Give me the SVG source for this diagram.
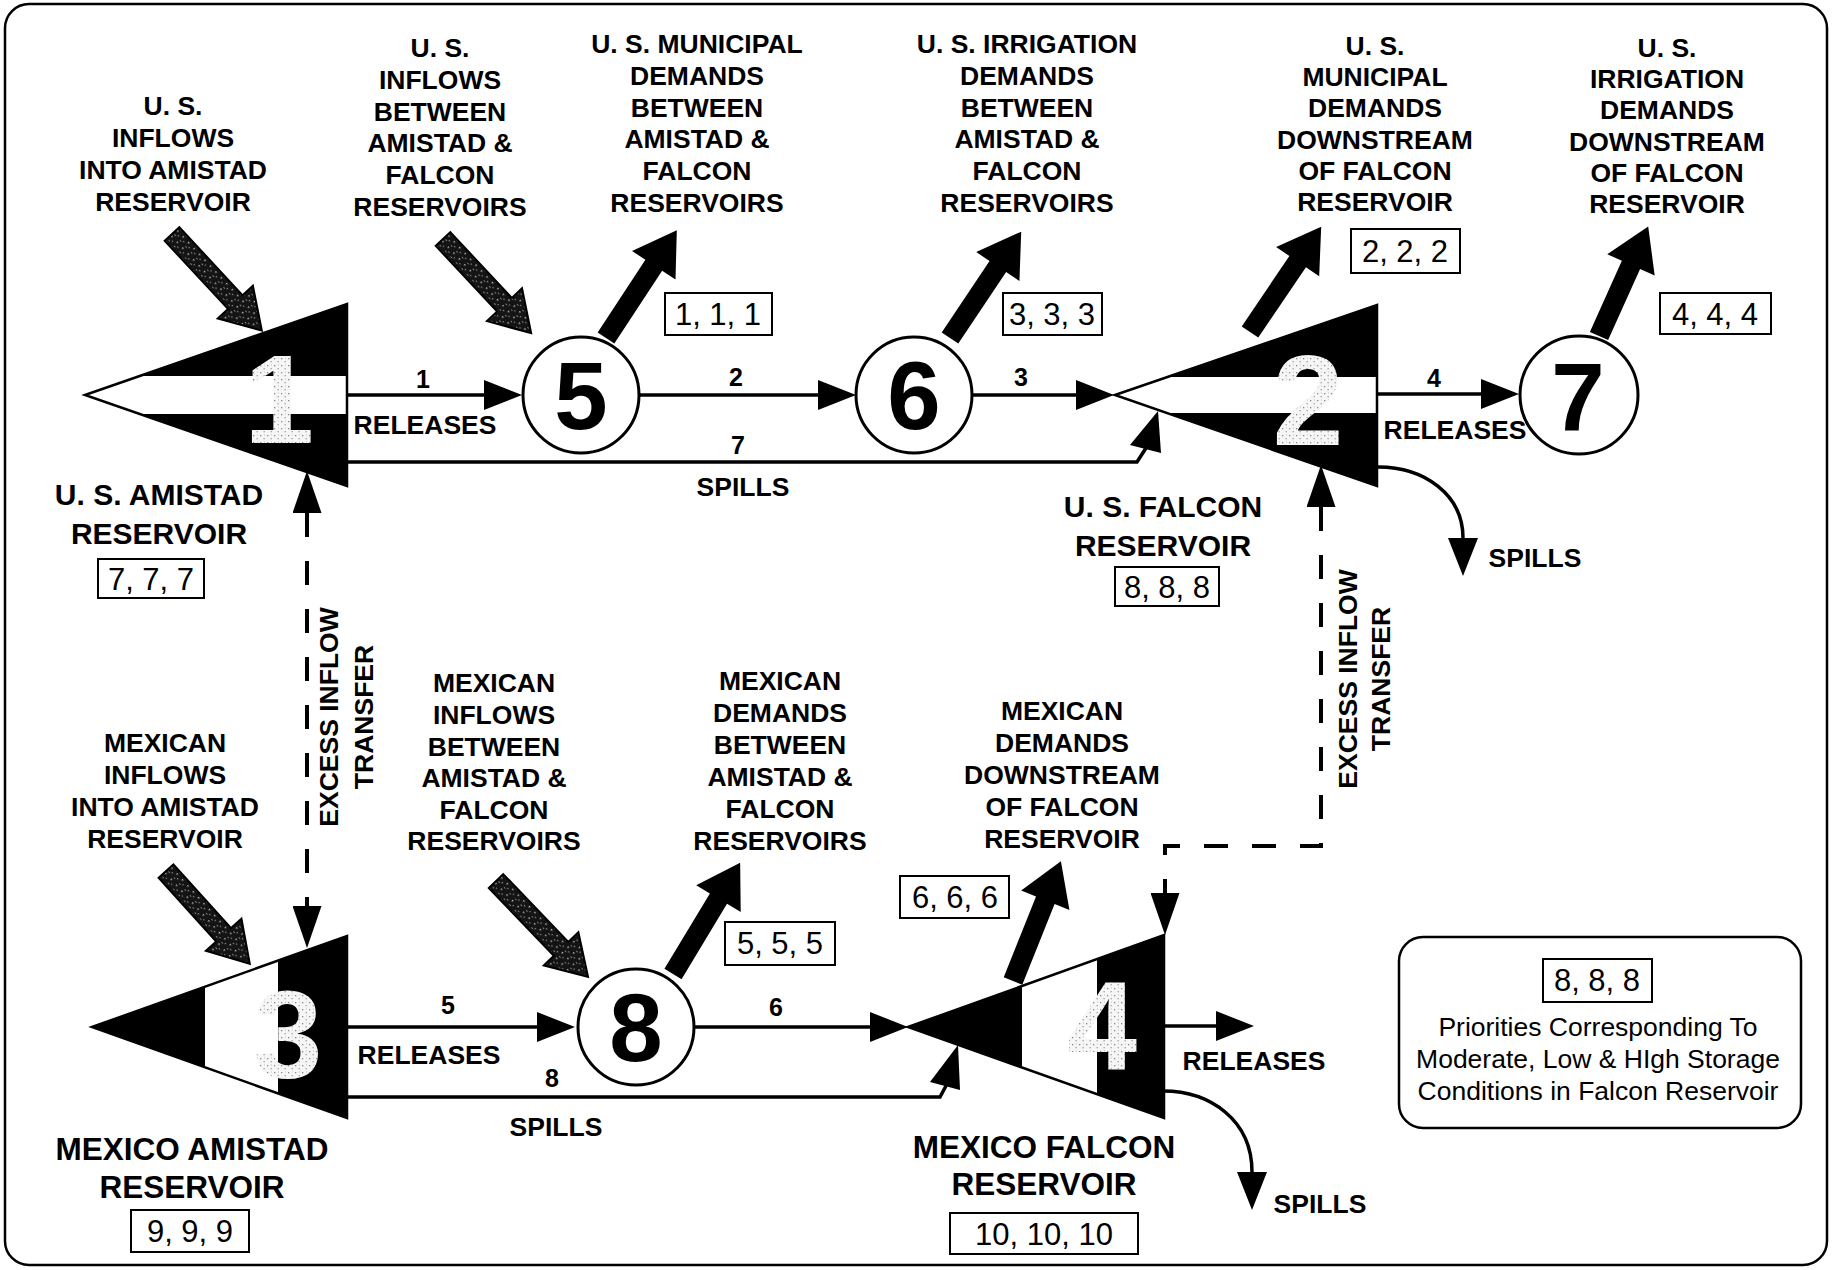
<svg xmlns="http://www.w3.org/2000/svg" width="1833" height="1270" viewBox="0 0 1833 1270">
<style>
text{font-family:"Liberation Sans",Arial,Helvetica,sans-serif;fill:#000}
.lbl{font-weight:bold;font-size:26.5px;text-anchor:middle}
.big{font-weight:bold;font-size:30px;text-anchor:middle}
.bigm{font-weight:bold;font-size:31.5px;text-anchor:middle}
.cl{font-weight:bold;font-size:25px;text-anchor:middle}
.num{font-size:31px;text-anchor:middle}
.leg{font-size:26.5px;text-anchor:middle}
.dig{font-weight:bold;font-size:96px;text-anchor:middle}
.tdig{font-weight:bold;text-anchor:middle;fill:url(#lite)}
.box{fill:#fff;stroke:#000;stroke-width:2}
.ln{fill:none;stroke:#000;stroke-width:3.5}
.dash{fill:none;stroke:#000;stroke-width:4;stroke-dasharray:24 24}
.circ{fill:#fff;stroke:#000;stroke-width:3}
.tri{fill:#000}
.band{fill:#fff}
.out{fill:none;stroke:#000;stroke-width:2.5;stroke-linejoin:miter}
.gin{fill:url(#stip);stroke:#000;stroke-width:2}
.bout{fill:#000}
.head{fill:#000}
</style>
<defs>
<pattern id="stip" width="8" height="8" patternUnits="userSpaceOnUse">
<rect width="8" height="8" fill="#141414"/>
<rect x="1" y="1" width="1.4" height="1.4" fill="#c8c8c8"/>
<rect x="5" y="4" width="1.2" height="1.2" fill="#9a9a9a"/>
<rect x="2.5" y="6" width="1" height="1" fill="#e0e0e0"/>
</pattern>
<pattern id="lite" width="7" height="7" patternUnits="userSpaceOnUse">
<rect width="7" height="7" fill="#f6f6f6"/>
<rect x="1" y="1" width="1.3" height="1.3" fill="#8a8a8a"/>
<rect x="4.5" y="4" width="1.3" height="1.3" fill="#a0a0a0"/>
<rect x="5" y="0.5" width="1" height="1" fill="#c0c0c0"/>
</pattern>
<marker id="ah" viewBox="0 0 38 30" refX="0" refY="15" markerWidth="38" markerHeight="30" markerUnits="userSpaceOnUse" orient="auto">
<path d="M0,0 L38,15 L0,30 Z" fill="#000"/>
</marker>
<marker id="ahd" viewBox="0 0 42 29" refX="0" refY="14.5" markerWidth="42" markerHeight="29" markerUnits="userSpaceOnUse" orient="auto-start-reverse">
<path d="M0,0 L42,14.5 L0,29 Z" fill="#000"/>
</marker>
</defs>
<rect width="1833" height="1270" fill="#fff"/>
<rect x="5" y="4" width="1822" height="1261" rx="24" fill="none" stroke="#000" stroke-width="2.5"/>

<g id="connectors">
<path class="ln" d="M347,395 H484" marker-end="url(#ah)"/>
<path class="ln" d="M639,395 H818" marker-end="url(#ah)"/>
<path class="ln" d="M972,395 H1076" marker-end="url(#ah)"/>
<path class="ln" d="M1378,394 H1481" marker-end="url(#ah)"/>
<path class="ln" d="M347,462 H1137 L1146,448"/>
<polygon class="head" points="1158,411 1130,445 1161,453"/>
<path class="ln" d="M1378,467 C1425,467 1463,495 1463,538" marker-end="url(#ah)"/>
<path class="ln" d="M347,1027 H537" marker-end="url(#ah)"/>
<path class="ln" d="M694,1027 H870" marker-end="url(#ah)"/>
<path class="ln" d="M1163,1026 H1216" marker-end="url(#ah)"/>
<path class="ln" d="M347,1097 H940 L947,1084"/>
<polygon class="head" points="958,1045 930,1082 960,1090"/>
<path class="ln" d="M1163,1091 C1210,1091 1252,1120 1252,1172" marker-end="url(#ah)"/>
<path class="dash" d="M307,513 V906" marker-start="url(#ahd)" marker-end="url(#ahd)"/>
<path class="dash" d="M1321,507 V846 H1165 V893" marker-start="url(#ahd)" marker-end="url(#ahd)"/>
<path class="gin" transform="translate(172,234) rotate(47.1)" d="M0,-10 H93 V-24 L132,0 L93,24 V10 H0 Z"/>
<path class="gin" transform="translate(443,239) rotate(46.9)" d="M0,-10 H90 V-24 L129,0 L90,24 V10 H0 Z"/>
<path class="gin" transform="translate(166,871) rotate(47.9)" d="M0,-10 H86 V-24 L125,0 L86,24 V10 H0 Z"/>
<path class="gin" transform="translate(496,881) rotate(46.2)" d="M0,-10 H94 V-24 L133,0 L94,24 V10 H0 Z"/>
<path class="bout" transform="translate(606,338) rotate(-56.7)" d="M0,-10 H87 V-26 L129,0 L87,26 V10 H0 Z"/>
<path class="bout" transform="translate(950,338) rotate(-56.2)" d="M0,-10 H86 V-26 L128,0 L86,26 V10 H0 Z"/>
<path class="bout" transform="translate(1250,332) rotate(-55.9)" d="M0,-10 H85 V-26 L127,0 L85,26 V10 H0 Z"/>
<path class="bout" transform="translate(1599,336) rotate(-65.8)" d="M0,-10 H78 V-26 L120,0 L78,26 V10 H0 Z"/>
<path class="bout" transform="translate(673,974) rotate(-58.9)" d="M0,-10 H88 V-26 L130,0 L88,26 V10 H0 Z"/>
<path class="bout" transform="translate(1013,981) rotate(-68.2)" d="M0,-10 H87 V-26 L129,0 L87,26 V10 H0 Z"/>
<text class="cl" x="423" y="388">1</text>
<text class="lbl" x="425" y="434">RELEASES</text>
<text class="cl" x="736" y="386">2</text>
<text class="cl" x="1021" y="386">3</text>
<text class="cl" x="1434" y="387">4</text>
<text class="lbl" x="1455" y="439">RELEASES</text>
<text class="cl" x="738" y="454">7</text>
<text class="lbl" x="743" y="496">SPILLS</text>
<text class="lbl" x="1535" y="567">SPILLS</text>
<text class="cl" x="448" y="1014">5</text>
<text class="lbl" x="429" y="1064">RELEASES</text>
<text class="cl" x="552" y="1087">8</text>
<text class="lbl" x="556" y="1136">SPILLS</text>
<text class="cl" x="776" y="1016">6</text>
<text class="lbl" x="1254" y="1070">RELEASES</text>
<text class="lbl" x="1320" y="1213">SPILLS</text>
<text class="lbl" transform="translate(338,717) rotate(-90)">EXCESS INFLOW</text>
<text class="lbl" transform="translate(373,717) rotate(-90)">TRANSFER</text>
<text class="lbl" transform="translate(1357,679) rotate(-90)">EXCESS INFLOW</text>
<text class="lbl" transform="translate(1390,679) rotate(-90)">TRANSFER</text>
</g>

<g id="n1-us-amistad">
<polygon class="tri" points="85,395 347,304 347,486"/>
<polygon class="band" points="85,395 140,376 347,376 347,414 138,414"/>
<text class="tdig" x="279" y="443" font-size="126">1</text>
<polygon class="out" points="85,395 347,304 347,486"/>
<text class="big" x="159" y="505">U. S. AMISTAD</text>
<text class="big" x="159" y="544">RESERVOIR</text>
<rect class="box" x="98" y="559" width="106" height="39"/>
<text class="num" x="151" y="590">7, 7, 7</text>
</g>

<g id="n2-us-falcon">
<polygon class="tri" points="1115,395 1377,305 1377,486"/>
<polygon class="band" points="1115,395 1167,377 1377,377 1377,413 1167,413"/>
<text class="tdig" x="1308" y="445" font-size="128">2</text>
<polygon class="out" points="1115,395 1377,305 1377,486"/>
<text class="big" x="1163" y="517">U. S. FALCON</text>
<text class="big" x="1163" y="556">RESERVOIR</text>
<rect class="box" x="1115" y="567" width="104" height="39"/>
<text class="num" x="1167" y="598">8, 8, 8</text>
</g>

<g id="n3-mexico-amistad">
<polygon class="tri" points="92,1027 347,936 347,1118"/>
<polygon class="band" points="205,987 278,961 278,1093 205,1067"/>
<text class="tdig" x="288" y="1078" font-size="124">3</text>
<polygon class="out" points="92,1027 347,936 347,1118"/>
<text class="bigm" x="192" y="1160">MEXICO AMISTAD</text>
<text class="bigm" x="192" y="1198">RESERVOIR</text>
<rect class="box" x="131" y="1210" width="118" height="42"/>
<text class="num" x="190" y="1242">9, 9, 9</text>
</g>

<g id="n4-mexico-falcon">
<polygon class="tri" points="908,1027 1164,935 1164,1118"/>
<polygon class="band" points="1022,986 1097,959 1097,1094 1022,1067"/>
<text class="tdig" x="1102" y="1070" font-size="126">4</text>
<polygon class="out" points="908,1027 1164,935 1164,1118"/>
<text class="bigm" x="1044" y="1158">MEXICO FALCON</text>
<text class="bigm" x="1044" y="1195">RESERVOIR</text>
<rect class="box" x="950" y="1213" width="188" height="41"/>
<text class="num" x="1044" y="1245">10, 10, 10</text>
</g>

<g id="n5">
<circle class="circ" cx="581" cy="395" r="58"/>
<text class="dig" x="581" y="429">5</text>
</g>
<g id="n6">
<circle class="circ" cx="914" cy="395" r="58"/>
<text class="dig" x="914" y="429">6</text>
</g>
<g id="n7">
<circle class="circ" cx="1579" cy="395" r="59"/>
<text class="dig" x="1578" y="431">7</text>
</g>
<g id="n8">
<circle class="circ" cx="636" cy="1027" r="58"/>
<text class="dig" x="636" y="1061">8</text>
</g>

<g id="us-inflow-amistad">
<text class="lbl" x="173" y="115">U. S.</text>
<text class="lbl" x="173" y="147">INFLOWS</text>
<text class="lbl" x="173" y="179">INTO AMISTAD</text>
<text class="lbl" x="173" y="211">RESERVOIR</text>
</g>
<g id="us-inflow-between">
<text class="lbl" x="440" y="57">U. S.</text>
<text class="lbl" x="440" y="89">INFLOWS</text>
<text class="lbl" x="440" y="121">BETWEEN</text>
<text class="lbl" x="440" y="152">AMISTAD &amp;</text>
<text class="lbl" x="440" y="184">FALCON</text>
<text class="lbl" x="440" y="216">RESERVOIRS</text>
</g>
<g id="us-muni-between">
<text class="lbl" x="697" y="53">U. S. MUNICIPAL</text>
<text class="lbl" x="697" y="85">DEMANDS</text>
<text class="lbl" x="697" y="117">BETWEEN</text>
<text class="lbl" x="697" y="148">AMISTAD &amp;</text>
<text class="lbl" x="697" y="180">FALCON</text>
<text class="lbl" x="697" y="212">RESERVOIRS</text>
<rect class="box" x="665" y="293" width="107" height="42"/>
<text class="num" x="718" y="325">1, 1, 1</text>
</g>
<g id="us-irr-between">
<text class="lbl" x="1027" y="53">U. S. IRRIGATION</text>
<text class="lbl" x="1027" y="85">DEMANDS</text>
<text class="lbl" x="1027" y="117">BETWEEN</text>
<text class="lbl" x="1027" y="148">AMISTAD &amp;</text>
<text class="lbl" x="1027" y="180">FALCON</text>
<text class="lbl" x="1027" y="212">RESERVOIRS</text>
<rect class="box" x="1003" y="293" width="99" height="42"/>
<text class="num" x="1052" y="325">3, 3, 3</text>
</g>
<g id="us-muni-down">
<text class="lbl" x="1375" y="55">U. S.</text>
<text class="lbl" x="1375" y="86">MUNICIPAL</text>
<text class="lbl" x="1375" y="117">DEMANDS</text>
<text class="lbl" x="1375" y="149">DOWNSTREAM</text>
<text class="lbl" x="1375" y="180">OF FALCON</text>
<text class="lbl" x="1375" y="211">RESERVOIR</text>
<rect class="box" x="1351" y="229" width="109" height="44"/>
<text class="num" x="1405" y="262">2, 2, 2</text>
</g>
<g id="us-irr-down">
<text class="lbl" x="1667" y="57">U. S.</text>
<text class="lbl" x="1667" y="88">IRRIGATION</text>
<text class="lbl" x="1667" y="119">DEMANDS</text>
<text class="lbl" x="1667" y="151">DOWNSTREAM</text>
<text class="lbl" x="1667" y="182">OF FALCON</text>
<text class="lbl" x="1667" y="213">RESERVOIR</text>
<rect class="box" x="1660" y="293" width="111" height="41"/>
<text class="num" x="1715" y="325">4, 4, 4</text>
</g>
<g id="mx-inflow-amistad">
<text class="lbl" x="165" y="752">MEXICAN</text>
<text class="lbl" x="165" y="784">INFLOWS</text>
<text class="lbl" x="165" y="816">INTO AMISTAD</text>
<text class="lbl" x="165" y="848">RESERVOIR</text>
</g>
<g id="mx-inflow-between">
<text class="lbl" x="494" y="692">MEXICAN</text>
<text class="lbl" x="494" y="724">INFLOWS</text>
<text class="lbl" x="494" y="756">BETWEEN</text>
<text class="lbl" x="494" y="787">AMISTAD &amp;</text>
<text class="lbl" x="494" y="819">FALCON</text>
<text class="lbl" x="494" y="850">RESERVOIRS</text>
</g>
<g id="mx-dem-between">
<text class="lbl" x="780" y="690">MEXICAN</text>
<text class="lbl" x="780" y="722">DEMANDS</text>
<text class="lbl" x="780" y="754">BETWEEN</text>
<text class="lbl" x="780" y="786">AMISTAD &amp;</text>
<text class="lbl" x="780" y="818">FALCON</text>
<text class="lbl" x="780" y="850">RESERVOIRS</text>
<rect class="box" x="725" y="922" width="110" height="43"/>
<text class="num" x="780" y="954">5, 5, 5</text>
</g>
<g id="mx-dem-down">
<text class="lbl" x="1062" y="720">MEXICAN</text>
<text class="lbl" x="1062" y="752">DEMANDS</text>
<text class="lbl" x="1062" y="784">DOWNSTREAM</text>
<text class="lbl" x="1062" y="816">OF FALCON</text>
<text class="lbl" x="1062" y="848">RESERVOIR</text>
<rect class="box" x="900" y="876" width="109" height="42"/>
<text class="num" x="955" y="908">6, 6, 6</text>
</g>

<g id="legend">
<rect x="1399" y="937" width="402" height="191" rx="24" fill="#fff" stroke="#000" stroke-width="2.5"/>
<rect class="box" x="1543" y="959" width="109" height="43"/>
<text class="num" x="1597" y="991">8, 8, 8</text>
<text class="leg" x="1598" y="1036">Priorities Corresponding To</text>
<text class="leg" x="1598" y="1068">Moderate, Low &amp; HIgh Storage</text>
<text class="leg" x="1598" y="1100">Conditions in Falcon Reservoir</text>
</g>
</svg>
